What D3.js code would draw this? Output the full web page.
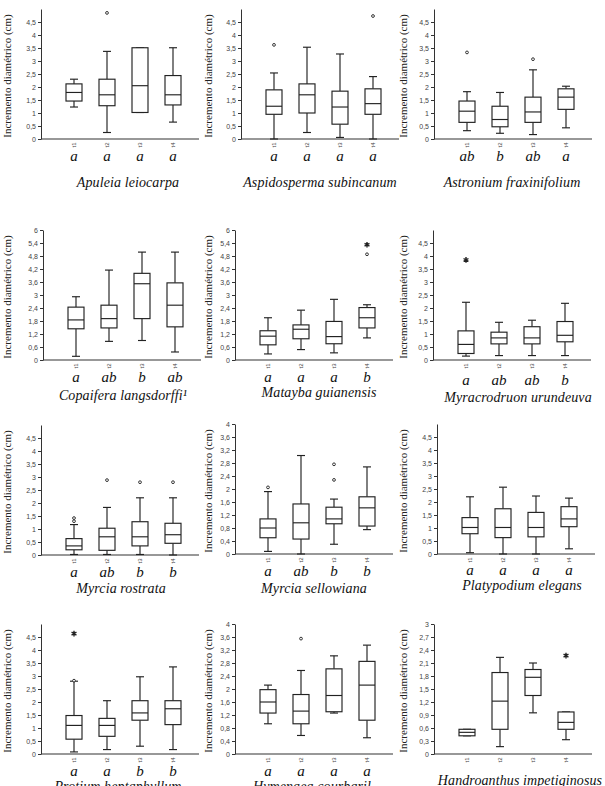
<!DOCTYPE html>
<html><head><meta charset="utf-8">
<script src="https://cdn.jsdelivr.net/npm/d3@7"></script>
<style>body{margin:0;background:#fff}svg{display:block}</style>
</head><body><svg id="c" width="605" height="786"></svg>
<script>
const treatments = ["t1","t2","t3","t4"];
const species = ["Apuleia leiocarpa","Aspidosperma subincanum","Astronium fraxinifolium",
 "Copaifera langsdorffi\u00B9","Matayba guianensis","Myracrodruon urundeuva",
 "Myrcia rostrata","Myrcia sellowiana","Platypodium elegans",
 "Protium heptaphyllum","Hymenaea courbaril","Handroanthus impetiginosus"];
const letters = [["a","a","a","a"],["a","a","a","a"],["ab","b","ab","a"],
 ["a","ab","b","ab"],["a","a","a","b"],["a","ab","ab","b"],
 ["a","ab","b","b"],["a","ab","b","b"],["a","a","a","a"],
 ["a","a","b","b"],["a","a","a","a"],[]];
const whiskerLow = [[1.23,0.25,1.02,0.65],[0,0.25,0.06,0],[0.32,0.22,0.17,0.43],
 [0.17,0.86,0.9,0.37],[0.28,0.48,0.33,1.02],[0.15,0.17,0.17,0.17],
 [0.02,0.02,0.02,0],[0.08,0,0.3,0.75],[0.05,0,0,0.2],
 [0.08,0.17,0.3,0.17],[0.93,0.57,1.26,0.5],[0.42,0.17,0.95,0.33]];
const q1 = [[1.46,1.28,1.02,1.31],[0.95,1.0,0.57,0.95],[0.64,0.47,0.64,1.14],
 [1.44,1.48,1.91,1.53],[0.7,0.98,0.75,1.48],[0.25,0.62,0.62,0.7],
 [0.2,0.18,0.35,0.45],[0.5,0.46,0.93,0.86],[0.78,0.63,0.66,1.05],
 [0.57,0.68,1.3,1.13],[1.26,0.93,1.3,1.04],[0.42,0.57,1.35,0.57]];
const median = [[1.79,1.70,2.05,1.70],[1.26,1.70,1.23,1.36],[1.07,0.75,1.04,1.61],
 [1.85,1.91,3.52,2.53],[1.1,1.42,1.08,1.95],[0.6,0.85,0.85,0.95],
 [0.35,0.7,0.7,0.78],[0.8,0.96,1.08,1.42],[1.02,1.02,1.02,1.35],
 [1.1,1.1,1.58,1.74],[1.6,1.32,1.8,2.12],[0.5,1.22,1.77,0.73]];
const q3 = [[2.12,2.30,3.51,2.44],[1.89,2.12,1.84,1.93],[1.46,1.26,1.61,1.93],
 [2.44,2.53,4.0,3.56],[1.35,1.62,1.78,2.42],[1.12,1.07,1.28,1.48],
 [0.63,1.03,1.28,1.22],[1.08,1.54,1.44,1.76],[1.4,1.74,1.6,1.82],
 [1.48,1.37,2.05,2.05],[1.98,1.83,2.62,2.85],[0.57,1.88,1.95,0.97]];
const whiskerHigh = [[2.30,3.37,3.51,3.51],[2.54,3.53,3.27,2.40],[1.82,1.79,2.66,2.03],
 [2.92,4.15,4.98,4.98],[1.95,2.3,2.8,2.55],[2.22,1.45,1.53,2.18],
 [1.17,1.83,2.2,2.2],[1.92,3.03,1.69,2.68],[2.2,2.57,2.23,2.15],
 [2.8,2.05,2.97,3.35],[2.12,2.57,3.02,3.35],[0.57,2.23,2.1,0.97]];
// outliers: [treatment index, value]
const outliers = [[[1,4.85]],[[0,3.62],[3,4.73]],[[0,3.33],[2,3.07]],
 [],[[3,4.88]],[],
 [[0,1.3],[0,1.42],[1,2.88],[2,2.8],[3,2.8]],[[0,2.05],[2,2.28],[2,2.76]],[],
 [[0,2.82]],[[1,3.55]],[]];
const extremes = [[],[],[],[],[[3,5.32]],[[0,3.85]],[],[],[],[[0,4.63]],[],[[3,2.27]]];
const axisMax = [5,5,5, 6,6,5, 5,4,5, 5,4,3];
const ticks5 = [0,0.5,1,1.5,2,2.5,3,3.5,4,4.5];
const ticks6 = [0,0.6,1.2,1.8,2.4,3,3.6,4.2,4.8,5.4,6];
const ticks4 = [0,0.4,0.8,1.2,1.6,2,2.4,2.8,3.2,3.6,4];
const ticks3 = [0,0.3,0.6,0.9,1.2,1.5,1.8,2.1,2.4,2.7,3];
const yTicks = [ticks5,ticks5,ticks5, ticks6,ticks6,ticks5, ticks5,ticks4,ticks5, ticks5,ticks4,ticks3];
const yTitle = "Incremento diamétrico (cm)";

// ---- layout ----
const axisXs = [41,241,434, 43,235,433, 41,235,437, 41,235,434];
const zeroYs = [139,360,555,754];
const plotH = 130;
const letterDy = 22;
const letterAdj = [0,0,0, 0,0,3, 0,0,-1, 0,0,0];
const nameY = [187,400,593,791];
const nameAdj = [0,0,0, 0,-3,2, 0,0,-3, 0,0,-6];
const nameX = [128,320,512, 123,319,518, 121,314,522, 118,312,520];
const titleX = [7,208,403];
const loc = d3.formatLocale({decimal:",",thousands:".",grouping:[3],currency:["",""]});
const fmt = loc.format("~r");
const ink = "#222";

const svg = d3.select("#c");
species.forEach((name,i)=>{
  const row = Math.floor(i/3), col = i%3;
  const ax = axisXs[i], zero = zeroYs[row] - (row===2 && col>0 ? 1 : 0);
  const g = svg.append("g");
  const y = d3.scaleLinear().domain([0,axisMax[i]]).range([zero, zero-plotH]);
  const x = d3.scalePoint().domain(treatments).range([ax+33, ax+132]);
  const yAxis = g.append("g").attr("transform",`translate(${ax},0)`)
    .call(d3.axisLeft(y).tickValues(yTicks[i]).tickFormat(fmt).tickSize(3).tickSizeOuter(0).tickPadding(2));
  yAxis.selectAll("path,line").attr("stroke","#333").attr("stroke-width",1);
  yAxis.selectAll("text").attr("font-family","Liberation Sans, Arial, sans-serif").attr("font-size",7).attr("fill","#444");
  g.append("line").attr("x1",ax).attr("x2",Math.min(ax+158,604)).attr("y1",zero).attr("y2",zero)
    .attr("stroke","#333").attr("stroke-width",1.2);
  // x tick labels
  treatments.forEach(t=>{
    g.append("text").attr("transform",`translate(${x(t)+2.2},${zero+6}) rotate(-90)`)
      .attr("text-anchor","middle").attr("font-family","Liberation Sans, Arial, sans-serif")
      .attr("font-size",6).attr("fill","#444").text(t);
  });
  // boxes
  const bw = 16, cw = 8;
  treatments.forEach((t,j)=>{
    const cx = x(t);
    const lo = whiskerLow[i][j], a = q1[i][j], m = median[i][j], b = q3[i][j], hi = whiskerHigh[i][j];
    const st = s=>s.attr("stroke",ink).attr("stroke-width",1.15).attr("fill","none");
    st(g.append("line").attr("x1",cx).attr("x2",cx).attr("y1",y(b)).attr("y2",y(hi)));
    st(g.append("line").attr("x1",cx).attr("x2",cx).attr("y1",y(a)).attr("y2",y(lo)));
    st(g.append("line").attr("x1",cx-cw/2).attr("x2",cx+cw/2).attr("y1",y(hi)).attr("y2",y(hi)));
    st(g.append("line").attr("x1",cx-cw/2).attr("x2",cx+cw/2).attr("y1",y(lo)).attr("y2",y(lo)));
    st(g.append("rect").attr("x",cx-bw/2).attr("width",bw).attr("y",y(b)).attr("height",Math.max(0,y(a)-y(b)))).attr("fill","#fff");
    st(g.append("line").attr("x1",cx-bw/2).attr("x2",cx+bw/2).attr("y1",y(m)).attr("y2",y(m)));
  });
  outliers[i].forEach(([j,v])=>{
    g.append("circle").attr("cx",x(treatments[j])).attr("cy",y(v)).attr("r",1.4)
      .attr("fill","#fff").attr("stroke",ink).attr("stroke-width",0.9);
  });
  extremes[i].forEach(([j,v])=>{
    g.append("path").attr("d",d3.symbol(d3.symbolAsterisk,22)())
      .attr("transform",`translate(${x(treatments[j])},${y(v)})`)
      .attr("stroke",ink).attr("stroke-width",1.4).attr("fill","none");
  });
  // letters
  letters[i].forEach((L,j)=>{
    g.append("text").attr("x",x(treatments[j])).attr("y",zero+letterDy+letterAdj[i])
      .attr("text-anchor","middle").attr("font-family","Liberation Serif, Times New Roman, serif")
      .attr("font-style","italic").attr("font-size",15).attr("fill","#111").text(L);
  });
  // species name
  g.append("text").attr("x",nameX[i]).attr("y",nameY[row]+nameAdj[i])
    .attr("text-anchor","middle").attr("font-family","Liberation Serif, Times New Roman, serif")
    .attr("font-style","italic").attr("font-size",14).attr("letter-spacing",0.1).attr("fill","#111").text(name);
  // y title
  g.append("text").attr("transform",`translate(${titleX[col]+4},${zero-plotH/2+2}) rotate(-90)`)
    .attr("text-anchor","middle").attr("font-family","Liberation Serif, Times New Roman, serif")
    .attr("font-size",11).attr("fill","#222").text(yTitle);
});
</script></body></html>
